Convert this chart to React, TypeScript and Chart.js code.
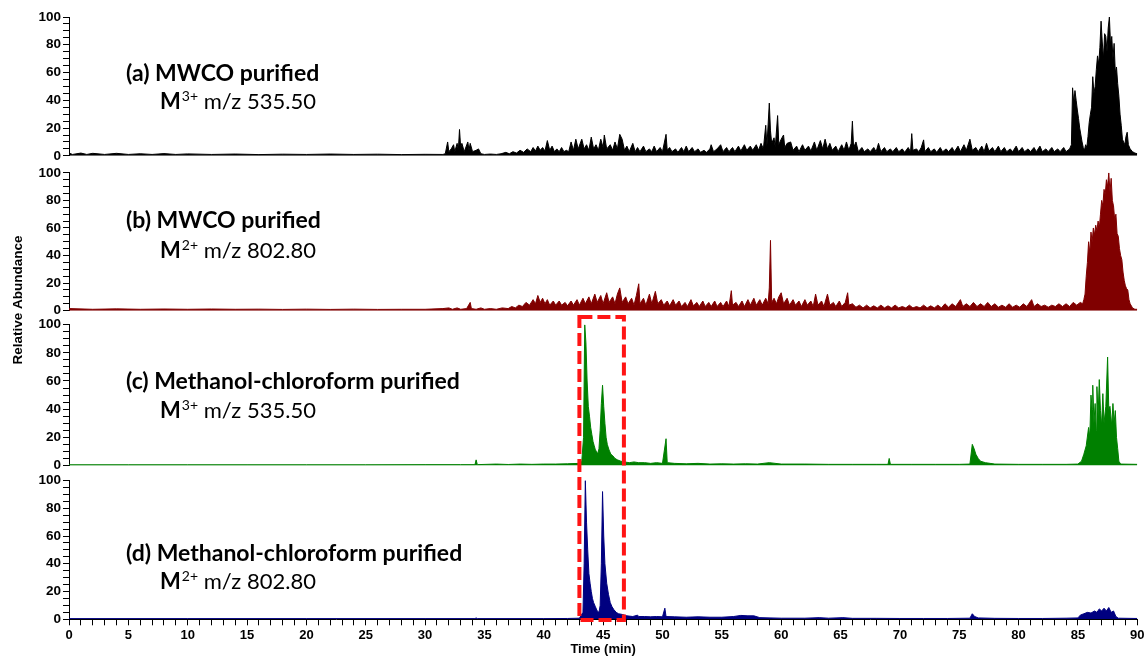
import React, { useEffect, useRef } from 'react';
import { Chart, registerables } from 'chart.js';

Chart.register(...registerables);

// ---------- data (time in min, relative abundance in %) ----------
const X_MIN = 0;
const X_MAX = 90;
const X_LABEL_STEP = 5;
const Y_TICK_LABELS = [0, 20, 40, 60, 80, 100];

const traceA: number[][] = [
  [0,2],[0.3,1],[1,2],[1.5,1],[2,1.8],[3,1],[4,1.8],[5,1],[6,1.5],[7,1],[8,1.6],[9,1],[10,1.4],[12,1],[14,1.3],[16,0.9],[18,1.2],[20,1],[22,1.3],[24,1],[26,1.2],[28,0.9],[30,1.1],[31.5,1],
  [31.7,1.5],[31.9,10],[32.0,3],[32.2,5],[32.4,8],[32.5,3],[32.7,9],[32.8,4],[32.9,19],[33.0,6],[33.1,9],[33.3,3],[33.6,10],[33.7,4],[33.8,9],[34.0,3],[34.3,4],[34.5,5],[34.7,1.5],
  [35,1],[35.5,1.3],[36,1],[36.4,1.5],
  [36.8,2.5],[37.1,1.5],[37.4,3],[37.7,2],[38.0,4],[38.3,2.5],[38.6,5],[38.9,3],[39.1,6],[39.3,3.5],[39.5,7],[39.7,4],[39.9,6],[40.1,3.5],[40.3,11],[40.5,4],[40.7,7],[40.9,3],[41.1,5],[41.3,3],[41.5,6],[41.7,3],[41.9,4],
  [42.1,3],[42.3,10],[42.5,4],[42.7,12],[42.9,5],[43.2,12],[43.4,5],[43.6,8],[43.8,4],[44.0,13.5],[44.2,5],[44.4,8],[44.6,4],[44.8,12],[45.0,6],[45.1,15],[45.3,5],[45.6,8],[45.8,4],[46.0,10],[46.2,5],[46.4,15.5],[46.6,12],[46.8,4],[47.0,7],[47.2,3],[47.5,9],[47.7,3],
  [47.9,6],[48.1,3],[48.4,7],[48.6,3],[48.9,5],[49.1,3],[49.3,7],[49.5,3],[49.8,6],[50.0,3],[50.3,15.5],[50.4,4],[50.6,6],[50.8,3],[51.1,5],[51.3,2.5],[51.6,6],[51.8,3],[52.0,7],[52.2,3],[52.5,6],[52.7,3],[53.0,5],[53.2,2.5],[53.5,4],[53.7,2.5],[54.0,5],[54.1,8],[54.3,3],[54.6,5],[54.9,8],[55.1,3],[55.4,6],[55.6,3],[55.9,6],[56.1,3],[56.4,7],[56.6,3.5],[56.9,8],[57.1,4],[57.4,7],[57.6,4],[57.9,8],[58.1,4],[58.3,9],[58.5,5],
  [58.7,22],[58.8,7],[59.0,38],[59.1,18],[59.2,9],[59.4,13],[59.5,6],[59.7,29],[59.8,8],[60.0,12],[60.2,15],[60.3,6],[60.5,9],[60.8,10],[61.0,4],
  [61.3,7],[61.5,3],[61.8,8],[62.0,4],[62.3,7],[62.5,3.5],[62.8,10],[63.0,4],[63.3,11],[63.5,5],[63.7,12],[63.9,5],[64.1,9],[64.3,4],[64.6,7],[64.8,3],[65.1,8],[65.3,4],[65.5,10],[65.7,4],[65.9,9],[66.0,25],[66.1,6],[66.3,10],[66.5,3],[66.8,6],[67.0,3],[67.3,5],[67.5,3],[67.8,6],[68.0,3],[68.2,9],[68.4,3],[68.7,6],[68.9,3],[69.2,5],[69.4,3],[69.7,6],[69.9,3],[70.2,5],[70.4,2.5],[70.7,6],[70.9,3],[71.0,16],[71.1,4],[71.4,5],[71.6,3],[71.8,6],[72.0,11.5],[72.1,3],[72.4,6],[72.6,3],[72.9,5],[73.1,2.5],[73.4,6],[73.6,3],[73.9,5],[74.1,3],[74.4,6],[74.6,3],[74.9,7],[75.1,3],[75.4,8],[75.6,4],[75.9,12],[76.1,4],[76.4,6],[76.6,3],[76.9,7],[77.1,3],[77.3,9],[77.5,3.5],[77.8,6],[78.0,3],[78.3,7],[78.5,3],[78.8,6],[79.0,3],[79.3,5],[79.5,3],[79.8,7],[80.0,3],[80.3,6],[80.5,3],[80.8,5],[81.0,3],[81.3,6],[81.5,3],[81.8,7],[82.0,3],[82.3,5],[82.5,3],[82.8,6],[83.0,3],[83.3,5],[83.5,3],[83.8,6],[84.0,3],[84.3,5],
  [84.45,8],[84.55,49],[84.65,38],[84.75,47],[84.85,40],[84.95,33],[85.05,27],[85.15,20],[85.25,15],[85.35,10],[85.45,6],[85.55,4],[85.65,8],[85.75,6],[85.85,14],[85.95,24],[86.05,30],[86.15,35],[86.25,57],[86.35,45],[86.45,50],[86.55,62],[86.65,72],[86.75,66],[86.85,78],[86.95,97],[87.05,82],[87.15,70],[87.25,88],[87.35,86],[87.45,75],[87.55,92],[87.65,100],[87.75,80],[87.85,86],[87.95,70],[88.05,81],[88.15,60],[88.25,64],[88.35,52],[88.45,43],[88.55,30],[88.65,22],[88.75,12],[88.85,10],[88.95,8],[89.05,14],[89.15,17],[89.25,8],[89.4,5],[89.6,3],[89.8,2],[90,1.5],
];

const traceB: number[][] = [
  [0,1.5],[2,1],[4,1.3],[6,1],[8,1.2],[10,1],[12,1.2],[14,1],[16,1.1],[18,0.9],[20,1.1],[22,0.9],[24,1.1],[26,0.9],[28,1],[30,1],
  [31.5,1.5],[32.0,2],[32.3,1],[32.7,2],[33.0,1],[33.5,1.5],[33.8,6],[33.9,1.5],[34.3,1],[34.7,2],[35.0,1],[35.5,1.5],[36.0,1],[36.5,2],[37.0,1.5],[37.3,3],[37.6,2],[37.9,4],[38.2,3],[38.5,6],[38.8,4],[39.1,8],[39.3,5],[39.5,11],[39.7,6],[39.9,9],[40.1,5],[40.3,8],[40.5,4],[40.8,7],[41.0,4],[41.3,7],[41.5,4],[41.8,6],[42.0,3.5],[42.3,7],[42.5,4],[42.8,8],[43.0,4],[43.3,9],[43.5,5],[43.8,10],[44.0,5],[44.3,12],[44.5,6],[44.8,11],[45.0,5],[45.3,13],[45.5,6],[45.8,10],[46.0,5],[46.2,12],[46.4,16.5],[46.6,6],[46.9,10],[47.1,5],[47.4,9],[47.6,4],[47.8,11],[48.0,19.5],[48.1,5],[48.4,9],[48.6,4],[48.9,12],[49.1,5],[49.4,14],[49.6,5],[49.9,8],[50.1,4],[50.4,7],[50.6,3.5],[50.9,8],[51.1,4],[51.4,7],[51.6,3],[51.9,6],[52.1,3],[52.4,8],[52.6,3.5],[52.9,6],[53.1,3],[53.4,7],[53.6,3],[53.9,6],[54.1,3],[54.4,7],[54.6,3],[54.9,6],[55.1,3],[55.4,7],[55.6,3],[55.8,14.5],[55.9,4],[56.2,6],[56.4,3],[56.7,7],[56.9,3],[57.2,8],[57.4,4],[57.7,9],[57.9,4],[58.2,8],[58.4,4],[58.7,9],[58.9,5],[59.0,16.5],[59.1,51],[59.2,6],[59.4,9],[59.6,5],[59.8,10],[60.0,13],[60.2,5],[60.5,9],[60.7,4],[61.0,8],[61.2,4],[61.5,7],[61.7,3],[62.0,8],[62.2,4],[62.5,7],[62.7,3],[62.9,12],[63.1,4],[63.4,7],[63.6,3],[63.9,12],[64.1,4],[64.4,6],[64.6,3],[64.9,7],[65.1,3],[65.4,6],[65.6,13],[65.7,4],[66.0,5],[66.3,2.5],[66.6,4],[66.9,2],[67.2,4],[67.5,2],[67.8,3.5],[68.1,2],[68.4,4],[68.7,2],[69.0,3.5],[69.3,2],[69.6,4],[69.9,2],[70.2,3],[70.5,2],[70.8,4],[71.1,2],[71.4,3],[71.7,2],[72.0,4],[72.3,2],[72.6,3.5],[72.9,2],[73.2,4],[73.5,2],[73.8,5],[74.1,2.5],[74.4,5],[74.7,3],[75.1,8],[75.3,3],[75.6,5],[75.9,3],[76.2,6],[76.5,3],[76.8,5],[77.1,3],[77.4,6],[77.7,3],[78.0,5],[78.3,2.5],[78.6,4],[78.9,2.5],[79.2,5],[79.5,2.5],[79.8,4],[80.1,2.5],[80.4,5],[80.7,3],[81.1,8],[81.3,3],[81.6,5],[81.9,3],[82.2,4],[82.5,2.5],[82.8,4],[83.1,3],[83.4,5],[83.7,3],[84.0,5],[84.3,3],[84.6,6],[84.9,4],[85.2,6],[85.4,5],
  [85.5,8],[85.6,12],[85.7,25],[85.8,35],[85.9,50],[86.0,42],[86.1,57],[86.2,50],[86.3,60],[86.4,55],[86.5,62],[86.6,58],[86.7,65],[86.8,60],[86.9,70],[87.0,80],[87.1,76],[87.2,88],[87.3,84],[87.4,95],[87.5,90],[87.6,100],[87.7,86],[87.8,96],[87.9,80],[88.0,76],[88.1,66],[88.2,70],[88.3,56],[88.4,54],[88.5,45],[88.6,40],[88.7,37],[88.8,28],[88.9,22],[89.0,18],[89.1,16],[89.2,15],[89.3,8],[89.4,5],[89.6,2],[89.8,1],[90,1],
];

const traceC: number[][] = [
  [0,0.5],[5,0.5],[10,0.5],[15,0.5],[20,0.5],[25,0.5],[30,0.6],[33,0.6],[34.2,0.6],[34.3,4],[34.4,0.6],[36,1],[37,0.7],[38,1],[39,0.8],[40,1],[41,1],[42,1.2],[43,1.5],[43.2,3],
  [43.35,20],[43.45,100],[43.55,87],[43.65,60],[43.75,42],[43.85,35],[43.95,27],[44.05,22],[44.15,17],[44.25,14],[44.35,11],[44.45,10],[44.55,8],[44.65,12],[44.75,25],[44.85,44],[44.95,57],[45.05,42],[45.15,30],[45.25,20],[45.35,15],[45.5,11],[45.65,8],[45.8,7],[46.0,5],[46.2,4],[46.5,3],[46.8,2.5],[47.2,2],[47.6,2.5],[48.0,2],[48.5,2],[49.0,1.5],[49.5,2],[50.0,1.5],[50.3,19],[50.4,2],[51,1.5],[52,1.2],[53,1.5],[54,1],[55,1.2],[56,1],[57,1.2],[58,1],[59,2],[60,1],[62,1],[64,0.8],[66,0.8],[68,0.8],[69.0,0.8],[69.1,5],[69.2,0.8],[71,0.8],[73,0.8],[75,0.8],[75.9,1],[76.1,15],[76.25,12],[76.4,8],[76.6,5],[76.8,3],[77.2,2],[77.6,1.5],[78,1],[80,0.8],[82,0.8],[84,0.8],[85,1],
  [85.3,3],[85.5,8],[85.7,14],[85.9,27],[86.0,20],[86.1,50],[86.2,40],[86.25,57],[86.35,30],[86.45,44],[86.55,25],[86.6,56],[86.7,35],[86.8,61],[86.9,39],[87.0,28],[87.1,51],[87.2,30],[87.35,42],[87.5,77],[87.6,40],[87.7,42],[87.85,28],[87.95,44],[88.05,30],[88.15,39],[88.25,20],[88.35,12],[88.45,3],[88.6,1],[90,0.8],
];

const traceD: number[][] = [
  [0,0.5],[10,0.5],[20,0.5],[30,0.5],[34.2,0.5],[34.3,1],[34.4,0.5],[40,0.5],[42,0.6],[43.0,0.8],[43.3,5],[43.4,40],[43.5,100],[43.6,70],[43.7,50],[43.8,33],[43.9,26],[44.0,20],[44.1,15],[44.2,12],[44.35,9],[44.5,6],[44.65,5],[44.75,10],[44.85,40],[44.95,92],[45.05,60],[45.15,40],[45.3,26],[45.45,18],[45.6,12],[45.75,9],[45.9,7],[46.1,5],[46.3,4],[46.6,3.5],[47.0,2.5],[47.5,2],[47.9,3],[48.0,2],[48.5,2],[49.0,1.8],[49.5,2],[50.0,1.8],[50.2,8],[50.3,2],[51,1.8],[52,1.5],[53,1.8],[54,1.5],[55,1.5],[56,2],[56.6,2.8],[57.2,2.5],[57.7,2.5],[58.2,1.2],[60,0.8],[62,0.8],[63.2,1.2],[64,0.8],[65.2,1.2],[66,0.7],[68,0.7],[70,0.6],[72,0.6],[74,0.6],[75.9,0.8],[76.1,4],[76.3,2],[76.6,1],[78,0.7],[80,0.6],[82,0.6],[84,0.8],[85.0,1],[85.2,3],[85.5,4],[85.8,5],[86.1,4.5],[86.4,6],[86.6,5],[86.8,7.5],[87.0,6],[87.2,8],[87.4,6],[87.6,8.5],[87.8,5],[88.0,6],[88.2,2],[88.4,0.8],[90,0.6],
];

const PANEL_TITLES = ['(a) MWCO purified', '(b) MWCO purified', '(c) Methanol-chloroform purified', '(d) Methanol-chloroform purified'];
const PANEL_CHARGES = ['3+', '2+', '3+', '2+'];
const PANEL_MZ = ['m/z 535.50', 'm/z 802.80', 'm/z 535.50', 'm/z 802.80'];
const HIGHLIGHT_RANGE = [43.0, 46.75]; // min

// ---------- layout / style ----------
const W = 1148;
const H = 656;
const AXIS_W = 69;
const AXIS_FAMILY = '"Liberation Sans", Arial, sans-serif';
const Y_TICK_FONT = { family: AXIS_FAMILY, size: 13.5, weight: 'bold' as const };
const X_TICK_FONT = { family: AXIS_FAMILY, size: 13, weight: 'bold' as const, lineHeight: 1 };
const LABEL_FONT = 'Lato, "Open Sans", sans-serif';
const COLORS = ['#000000', '#800000', '#008000', '#000080'];
const AXES = ['ya', 'yb', 'yc', 'yd'];
const PANEL_WEIGHTS = [139, 138, 141, 139];
const GAP_WEIGHTS = [17, 14, 15];
const LABEL_BASELINES = [[53.6, 33.5], [60.1, 38.4], [54.3, 33.7], [42.1, 21.9]];
const LABEL_DX = [57, 91];

const toPoints = (t: number[][]) => t.map(([x, y]) => ({ x, y }));

const panelScale = (weight: number, stackWeight: number) => ({
  type: 'linear',
  position: 'left',
  stack: 'panels',
  stackWeight,
  weight,
  min: 0,
  max: 100,
  afterFit: (s: any) => { s.width = AXIS_W; },
  border: { display: true, color: '#000', width: 1 },
  grid: { drawOnChartArea: false, drawTicks: true, tickLength: 6, color: '#000', lineWidth: 1 },
  ticks: {
    stepSize: 5,
    autoSkip: false,
    padding: 2,
    color: '#000',
    font: Y_TICK_FONT,
    callback: (v: any) => (Y_TICK_LABELS.includes(Number(v)) ? String(v) : ''),
  },
});

const gapScale = (weight: number, stackWeight: number) => ({
  type: 'linear',
  position: 'left',
  stack: 'panels',
  stackWeight,
  weight,
  min: 0,
  max: 1,
  afterFit: (s: any) => { s.width = AXIS_W; },
  border: { display: false },
  grid: { display: false },
  ticks: { display: false },
});

const overlayPlugin = {
  id: 'overlay',
  afterDatasetsDraw(chart: any) {
    const { ctx, chartArea, scales } = chart;
    ctx.save();
    // highlight box
    const xs = scales.x;
    const x0 = xs.getPixelForValue(HIGHLIGHT_RANGE[0]);
    const x1 = xs.getPixelForValue(HIGHLIGHT_RANGE[1]);
    const yTop = scales.yc.getPixelForValue(105.5);
    const yBot = scales.yd.getPixelForValue(-0.5);
    ctx.strokeStyle = '#ff1414';
    ctx.lineWidth = 4;
    ctx.setLineDash([13, 5]);
    ctx.strokeRect(x0, yTop, x1 - x0, yBot - yTop);
    ctx.setLineDash([]);

    // panel labels
    ctx.fillStyle = '#000';
    ctx.textBaseline = 'alphabetic';
    ctx.textAlign = 'left';
    AXES.forEach((ax, i) => {
      const ys = scales[ax];
      const y1 = ys.getPixelForValue(LABEL_BASELINES[i][0]);
      const y2 = ys.getPixelForValue(LABEL_BASELINES[i][1]);
      ctx.font = `bold 23px ${LABEL_FONT}`;
      ctx.fillText(PANEL_TITLES[i], chartArea.left + LABEL_DX[0], y1);
      let x = chartArea.left + LABEL_DX[1];
      ctx.font = `bold 22px ${LABEL_FONT}`;
      ctx.fillText('M', x, y2);
      x += ctx.measureText('M').width;
      ctx.font = `14px ${LABEL_FONT}`;
      ctx.fillText(PANEL_CHARGES[i], x + 1, y2 - 8);
      x += ctx.measureText(PANEL_CHARGES[i]).width + 1;
      ctx.font = `22px ${LABEL_FONT}`;
      ctx.fillText(' ' + PANEL_MZ[i], x, y2);
    });

    // y-axis title
    ctx.translate(18, 300);
    ctx.rotate(-Math.PI / 2);
    ctx.textAlign = 'center';
    ctx.textBaseline = 'middle';
    ctx.font = `bold 13.5px ${AXIS_FAMILY}`;
    ctx.fillText('Relative Abundance', 0, 0);
    ctx.restore();
  },
};

export default function App() {
  const ref = useRef<HTMLCanvasElement | null>(null);

  useEffect(() => {
    if (!ref.current) return;
    const scales: any = {
      x: {
        type: 'linear',
        position: 'bottom',
        min: X_MIN,
        max: X_MAX,
        border: { display: true, color: '#000', width: 1 },
        grid: { drawOnChartArea: false, drawTicks: true, tickLength: 6, color: '#000' },
        ticks: {
          stepSize: 1,
          autoSkip: false,
          maxRotation: 0,
          padding: 3.5,
          color: '#000',
          font: X_TICK_FONT,
          callback: (v: any) => (Number(v) % X_LABEL_STEP === 0 ? String(v) : ''),
        },
        title: {
          display: true,
          text: 'Time (min)',
          color: '#000',
          font: { family: AXIS_FAMILY, size: 13, weight: 'bold', lineHeight: 0.615 },
          padding: { top: 0, bottom: 2.7 },
        },
      },
      ya: panelScale(7, PANEL_WEIGHTS[0]),
      g1: gapScale(6, GAP_WEIGHTS[0]),
      yb: panelScale(5, PANEL_WEIGHTS[1]),
      g2: gapScale(4, GAP_WEIGHTS[1]),
      yc: panelScale(3, PANEL_WEIGHTS[2]),
      g3: gapScale(2, GAP_WEIGHTS[2]),
      yd: panelScale(1, PANEL_WEIGHTS[3]),
    };
    const traces = [traceA, traceB, traceC, traceD];
    const chart = new Chart(ref.current, {
      type: 'line',
      data: {
        datasets: traces.map((t, i) => ({
          data: toPoints(t),
          yAxisID: AXES[i],
          borderColor: COLORS[i],
          backgroundColor: COLORS[i],
          borderWidth: 1,
          pointRadius: 0,
          tension: 0,
          fill: 'origin',
        })),
      },
      options: {
        responsive: false,
        animation: false,
        layout: { padding: { top: 17, right: 10, bottom: 0, left: 0 } },
        plugins: { legend: { display: false }, tooltip: { enabled: false } },
        scales,
      } as any,
      plugins: [overlayPlugin],
    });
    return () => chart.destroy();
  }, []);

  return (
    <div style={{ position: 'fixed', left: 0, top: 0, width: W, height: H, background: '#fff' }}>
      <canvas ref={ref} width={W} height={H} style={{ width: W, height: H, display: 'block' }} />
    </div>
  );
}
